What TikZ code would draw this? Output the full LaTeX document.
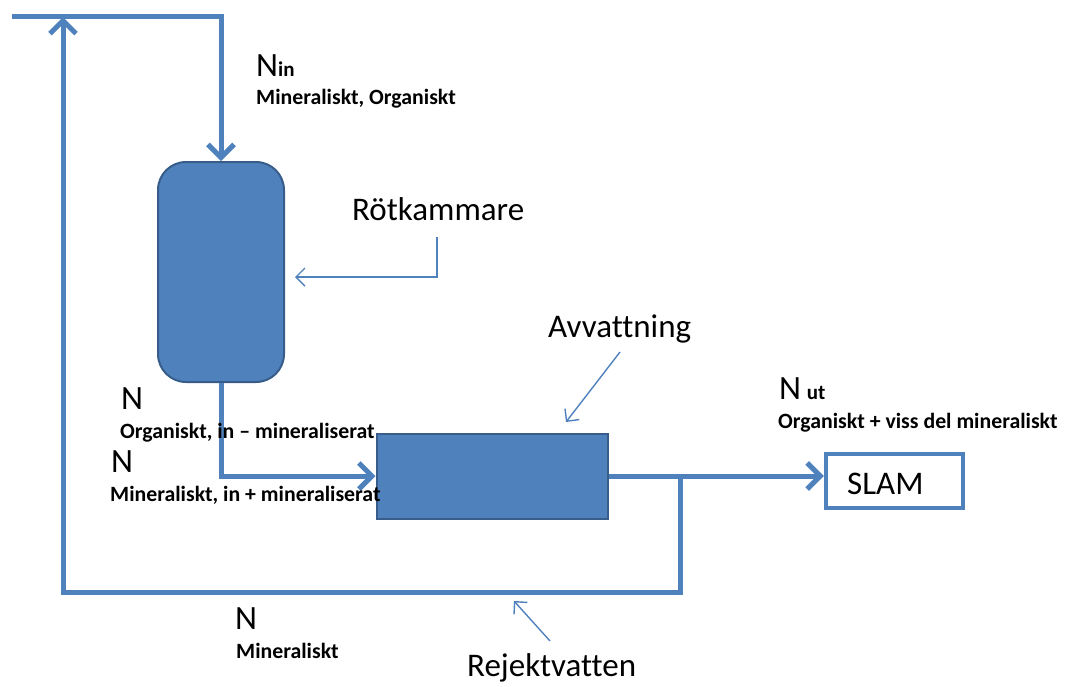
\documentclass[tikz,border=0pt]{standalone}
\usepackage{fontspec}
\setmainfont[Ligatures=NoCommon]{Carlito}
\usetikzlibrary{arrows.meta}
\definecolor{lineblue}{HTML}{4F81BD}
\definecolor{borderblue}{HTML}{385D8A}
\begin{document}
\begin{tikzpicture}[x=1pt,y=-1pt,
  flow/.style={draw=lineblue,line width=5pt},
  bigtip/.style={-{Straight Barb[length=13pt,width=26pt]}},
  pointer/.style={draw=lineblue,line width=1.4pt,-{Straight Barb[length=9pt,width=18pt]}},
  vessel/.style={draw=borderblue,line width=2pt,fill=lineblue,rounded corners=28pt,minimum width=126pt,minimum height=220pt,inner sep=0pt},
  dewater/.style={draw=borderblue,line width=2pt,fill=lineblue,minimum width=231pt,minimum height=85pt,inner sep=0pt},
  sludge/.style={draw=lineblue,line width=4.5pt,fill=white,minimum width=137pt,minimum height=54pt,inner sep=0pt},
  bigtxt/.style={font=\fontsize{33}{38}\selectfont,inner sep=0pt},
  Ntxt/.style={font=\fontsize{34}{38}\selectfont,inner sep=0pt,anchor=base west},
  smalltxt/.style={font=\bfseries\fontsize{21.8}{26}\selectfont,inner sep=0pt,anchor=base west}
]
\useasboundingbox (0,0) rectangle (1065,686);

% coordinates
\coordinate (tl) at (12,16);
\coordinate (ltop) at (63,17);
\coordinate (bl) at (63,592);

% main elements
\node[vessel] (tank) at (221,272) {};
\node[dewater] (avv) at (492,476) {};
\node[sludge] (slam) at (894.5,481) {};
\node[bigtxt,anchor=base west] (slamtxt) at (847,494) {SLAM};
\coordinate (jn) at (680,476);

\draw[flow,bigtip] (tl) -| (tank.north);
\draw[flow,bigtip] (jn) |- (bl) -- (ltop);
\draw[flow,bigtip] (tank.south) |- (avv.west);
\draw[flow,bigtip] (avv.east) -- (avv.east -| slam.west);

% labels
\node[bigtxt,anchor=base west] (rot) at (352,220) {Rötkammare};
\node[bigtxt,anchor=base west] (avvl) at (548,337) {Avvattning};
\node[bigtxt,anchor=base west] (rej) at (467,676) {Rejektvatten};

\coordinate (r1) at (437,237);
\coordinate (r2) at (437,277);
\coordinate (r3) at (295,277);
\draw[pointer] (r1) -- (r2) -- (r3);
\coordinate (a1) at (620,352);
\coordinate (a2) at (566,422);
\draw[pointer] (a1) -- (a2);
\coordinate (j1) at (550,641);
\coordinate (j2) at (514,601);
\draw[pointer] (j1) -- (j2);

% N labels
\node[Ntxt] (nin) at (256,76) {N\textbf{\fontsize{21}{24}\selectfont in}};
\node[smalltxt] (nins) at (256,104) {Mineraliskt, Organiskt};

\node[Ntxt] (n1) at (121,409) {N};
\node[smalltxt] (n1s) at (120,438) {Organiskt, in -- mineraliserat};

\node[Ntxt] (n2) at (111,472) {N};
\node[smalltxt] (n2s) at (110,501) {Mineraliskt, in + mineraliserat};

\node[Ntxt] (nut) at (779,399) {N\,\textbf{\fontsize{21}{24}\selectfont ut}};
\node[smalltxt] (nuts) at (778,428) {Organiskt + viss del mineraliskt};

\node[Ntxt] (n3) at (235,629) {N};
\node[smalltxt] (n3s) at (236,658) {Mineraliskt};
\end{tikzpicture}
\end{document}
